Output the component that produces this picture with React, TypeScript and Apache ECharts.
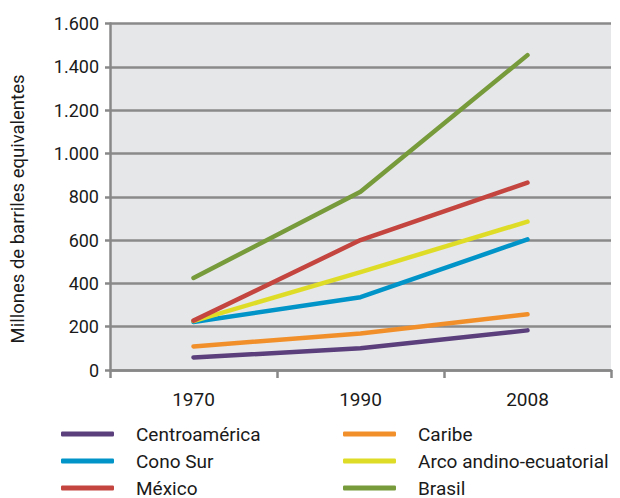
import React, { useEffect, useRef } from "react";
import * as echarts from "echarts";

const years = ["1970", "1990", "2008"];
const centroamerica = [58, 100, 183];
const caribe = [109, 169, 257];
const conoSur = [222, 336, 603];
const arco = [226, 452, 685];
const mexico = [228, 600, 865];
const brasil = [425, 823, 1454];

const yTicks = [0, 200, 400, 600, 800, 1000, 1200, 1400, 1600];

const FONT = "Roboto, 'Open Sans', sans-serif";

export default function App() {
  const ref = useRef<HTMLDivElement>(null);
  useEffect(() => {
    if (!ref.current) return;
    const chart = echarts.init(ref.current, null, { renderer: "svg" });
    const mk = (name: string, data: number[], color: string) => ({
      name,
      type: "line",
      data,
      symbol: "none",
      itemStyle: { color },
      lineStyle: { color, width: 4.5, cap: "round", join: "round" },
    });
    const legendItem = (name: string, left: number, centerY: number) => ({
      orient: "horizontal",
      icon: "roundRect",
      itemWidth: 53,
      itemHeight: 5,
      padding: 0,
      left,
      top: centerY - 9,
      data: [name],
      textStyle: {
        fontFamily: FONT,
        fontSize: 19,
        color: "#1a1a1a",
        lineHeight: 18,
        padding: [0, 0, 0, 17],
      },
    });
    chart.setOption({
      animation: false,
      textStyle: { fontFamily: FONT },
      grid: { left: 110, right: 9, top: 23.5, bottom: 128 },
      xAxis: {
        type: "category",
        data: years,
        boundaryGap: true,
        axisLine: { lineStyle: { color: "#888888", width: 2.5 } },
        axisTick: { show: true, length: 8, lineStyle: { color: "#888888", width: 2.5 } },
        axisLabel: { fontFamily: FONT, fontSize: 19, color: "#1a1a1a", margin: 20 },
      },
      yAxis: {
        type: "value",
        min: 0,
        max: 1600,
        interval: 200,
        axisLine: { show: true, lineStyle: { color: "#888888", width: 2.5 } },
        axisTick: { show: true, length: 5, lineStyle: { color: "#888888", width: 2.5 } },
        splitLine: { lineStyle: { color: "#8a8a8a", width: 2.5 } },
        splitArea: { show: true, areaStyle: { color: ["#e6e7e8", "#e6e7e8"] } },
        axisLabel: {
          fontFamily: FONT,
          fontSize: 18,
          color: "#1a1a1a",
          margin: 11,
          formatter: (v: number) =>
            yTicks.includes(v) ? String(v).replace(/\B(?=(\d{3})+(?!\d))/g, ".") : "",
        },
      },
      legend: [
        legendItem("Centroamérica", 61, 433.5),
        legendItem("Cono Sur", 61, 460.5),
        legendItem("México", 61, 487.5),
        legendItem("Caribe", 343, 433.5),
        legendItem("Arco andino-ecuatorial", 343, 460.5),
        legendItem("Brasil", 343, 487.5),
      ],
      graphic: [
        {
          type: "text",
          x: 18,
          y: 209,
          rotation: Math.PI / 2,
          style: {
            text: "Millones de barriles equivalentes",
            fontFamily: FONT,
            fontSize: 18.5,
            fill: "#1a1a1a",
            align: "center",
            verticalAlign: "middle",
          },
        },
      ],
      series: [
        mk("Centroamérica", centroamerica, "#5a3f7c"),
        mk("Caribe", caribe, "#f1902b"),
        mk("Cono Sur", conoSur, "#0094c9"),
        mk("Arco andino-ecuatorial", arco, "#dfdc27"),
        mk("México", mexico, "#c4443f"),
        mk("Brasil", brasil, "#779a3b"),
      ],
    });
    return () => chart.dispose();
  }, []);
  return (
    <div
      ref={ref}
      style={{ position: "fixed", left: 0, top: 0, width: 620, height: 498, background: "#ffffff" }}
    />
  );
}
